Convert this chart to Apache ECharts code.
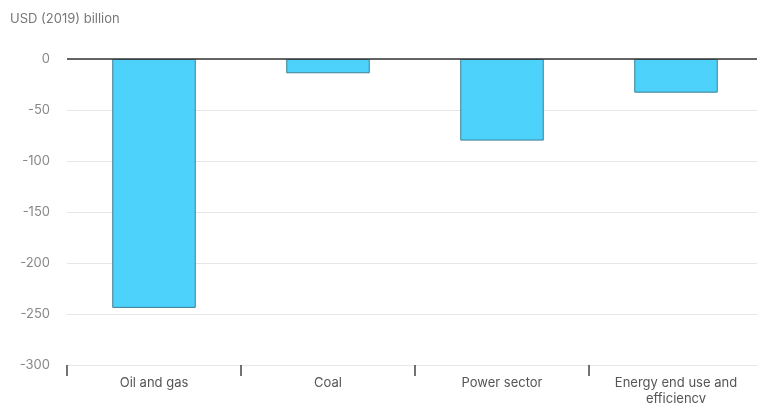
<!DOCTYPE html>
<html>
<head>
<meta charset="utf-8">
<script src="https://cdn.jsdelivr.net/npm/echarts@6/dist/echarts.min.js"></script>
<style>
html,body{margin:0;padding:0;background:#fff;}
#main{width:757px;height:403px;}
</style>
</head>
<body>
<div id="main"></div>
<script>
const categories = ["Oil and gas", "Coal", "Power sector", "Energy end use and\nefficiency"];
const values = [-244, -14, -80, -33];
const yTicks = [0, -50, -100, -150, -200, -250, -300];
const unitLabel = "USD (2019) billion";

const chart = echarts.init(document.getElementById('main'), null, {renderer: 'canvas'});
chart.setOption({
  animation: false,
  textStyle: {fontFamily: 'Inter, "Open Sans", sans-serif'},
  graphic: [{
    type: 'text', left: 10, top: 13,
    style: {text: unitLabel, fill: '#777', font: '13px Inter, sans-serif'}
  }],
  grid: {left: 67, top: 59, bottom: 38, width: 696, containLabel: false, outerBoundsMode: 'none'},
  xAxis: {
    type: 'category',
    data: categories,
    position: 'bottom',
    axisLine: {show: false, onZero: false},
    axisTick: {show: true, length: 11, lineStyle: {color: '#444', width: 1.5}},
    axisLabel: {color: '#555', fontSize: 13, margin: 10, lineHeight: 16, interval: 0}
  },
  yAxis: {
    type: 'value',
    min: yTicks[yTicks.length - 1],
    max: yTicks[0],
    interval: 50,
    axisLine: {show: false},
    axisTick: {show: false},
    axisLabel: {color: '#888', fontSize: 13, margin: 17},
    splitLine: {lineStyle: {color: '#e6e6e6', width: 1}}
  },
  series: [{
    type: 'bar',
    data: values,
    barWidth: '48%',
    itemStyle: {color: '#4dd2fc', borderColor: '#3c7f95', borderWidth: 1},
    markLine: {
      silent: true,
      symbol: 'none',
      label: {show: false},
      lineStyle: {color: '#333', width: 1.5, type: 'solid'},
      data: [{yAxis: 0}]
    }
  }]
});
</script>
</body>
</html>
